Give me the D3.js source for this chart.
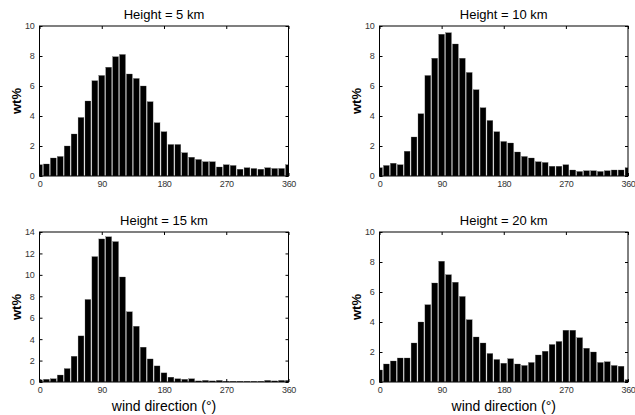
<!DOCTYPE html>
<html>
<head>
<meta charset="utf-8">
<script src="https://cdn.jsdelivr.net/npm/d3@7"></script>
<style>
body { margin: 0; background: #fff; }
svg text { font-family: "Liberation Sans", Arial, sans-serif; }
</style>
</head>
<body>
<svg id="chart" width="635" height="415"></svg>
<script>
// bin centres, 10 degree steps (0..360)
var binCenters = d3.range(0, 361, 10);
var xTicks = [0, 90, 180, 270, 360];

var titles = ["Height = 5 km", "Height = 10 km", "Height = 15 km", "Height = 20 km"];
var yMax = [10, 10, 14, 10];

var h5 = [0.75, 0.8, 1.2, 1.3, 2.0, 2.8, 3.9, 5.0, 6.35, 6.7, 7.25, 7.95, 8.1, 6.8, 6.5, 6.0, 4.95, 3.55,
	2.95, 2.1, 2.1, 1.55, 1.25, 1.1, 0.95, 0.95, 0.6, 0.75, 0.7, 0.45, 0.55, 0.5, 0.45, 0.55, 0.5, 0.5, 0.75];
var h10 = [0.55, 0.7, 0.85, 0.75, 1.65, 2.6, 4.15, 6.7, 7.85, 9.45, 9.55, 8.8, 7.85, 6.9, 5.75, 4.55, 3.7, 2.95,
	2.3, 2.2, 1.6, 1.3, 1.2, 0.95, 0.9, 0.65, 0.65, 0.75, 0.4, 0.3, 0.35, 0.35, 0.3, 0.35, 0.4, 0.4, 0.55];
var h15 = [0.2, 0.25, 0.3, 0.65, 1.25, 2.4, 4.3, 7.7, 11.7, 13.35, 13.55, 13.1, 9.8, 6.55, 5.2, 3.25, 2.15, 1.5,
	0.85, 0.45, 0.3, 0.25, 0.3, 0.1, 0.15, 0.1, 0.15, 0.05, 0.05, 0.05, 0.05, 0.05, 0.05, 0.15, 0.1, 0.15, 0.15];
var h20 = [0.8, 1.2, 1.4, 1.6, 1.6, 2.6, 4.0, 5.15, 6.6, 8.05, 7.15, 6.65, 5.7, 4.15, 3.0, 2.6, 1.9, 1.5,
	1.25, 1.55, 1.2, 1.1, 1.3, 1.8, 2.05, 2.5, 2.7, 3.45, 3.45, 2.95, 2.25, 2.0, 1.3, 1.35, 1.1, 1.05, 0.15];

var series = [h5, h10, h15, h20];

var svg = d3.select("#chart");

// panel boxes (left, top, width, height)
var panels = [
	{left: 39.5, top: 26, width: 249, height: 150},
	{left: 379.5, top: 26, width: 248.5, height: 150},
	{left: 39.5, top: 232, width: 249, height: 150},
	{left: 379.5, top: 232, width: 248.5, height: 150}
];

var tickLen = 3;

panels.forEach(function(p, i) {
	var g = svg.append("g")
		.attr("transform", "translate(" + p.left + "," + p.top + ")");

	var x = d3.scaleLinear().domain([0, 360]).range([0, p.width]);
	var y = d3.scaleLinear().domain([0, yMax[i]]).range([p.height, 0]);

	var clipId = "clip" + i;
	g.append("clipPath").attr("id", clipId)
		.append("rect").attr("width", p.width).attr("height", p.height);

	var data = binCenters.map(function(c, j) { return {c: c, v: series[i][j]}; });

	g.append("g").attr("clip-path", "url(#" + clipId + ")")
		.selectAll(".bar")
		.data(data)
		.enter().append("rect")
		.attr("class", "bar")
		.attr("x", function(d) { return x(d.c - 4.2); })
		.attr("y", function(d) { return y(d.v); })
		.attr("width", x(8.4) - x(0))
		.attr("height", function(d) { return p.height - y(d.v); })
		.attr("fill", "#000")
		.attr("stroke", "#555")
		.attr("stroke-width", 0.3);

	var yTicks = d3.range(0, yMax[i] + 1, 2);

	g.append("g")
		.attr("transform", "translate(0," + p.height + ")")
		.call(d3.axisBottom(x).tickValues(xTicks).tickSize(-tickLen).tickPadding(5).tickFormat(d3.format("d")));
	g.append("g")
		.call(d3.axisLeft(y).tickValues(yTicks).tickSize(-tickLen).tickPadding(5).tickFormat(d3.format("d")));
	g.append("g")
		.call(d3.axisTop(x).tickValues(xTicks).tickSize(-tickLen).tickFormat(""));
	g.append("g")
		.attr("transform", "translate(" + p.width + ",0)")
		.call(d3.axisRight(y).tickValues(yTicks).tickSize(-tickLen).tickFormat(""));

	g.selectAll(".domain").remove();
	g.selectAll(".tick line").attr("stroke", "#000");
	g.selectAll(".tick text").attr("fill", "#333")
		.style("font-size", "9px")
		.style("letter-spacing", "-0.3px");

	g.append("rect")
		.attr("width", p.width).attr("height", p.height)
		.attr("fill", "none").attr("stroke", "#000").attr("stroke-width", 1);

	g.append("text")
		.attr("x", p.width / 2)
		.attr("y", -7)
		.attr("text-anchor", "middle")
		.style("font-size", "13px")
		.text(titles[i]);

	g.append("text")
		.attr("transform", "translate(" + (-19) + "," + (p.height / 2) + ") rotate(-90)")
		.attr("text-anchor", "middle")
		.style("font-size", "13px")
		.style("font-weight", "bold")
		.text("wt%");

	if (i >= 2) {
		g.append("text")
			.attr("x", p.width / 2)
			.attr("y", p.height + 29)
			.attr("text-anchor", "middle")
			.style("font-size", "14px")
			.text("wind direction (°)");
	}
});
</script>
</body>
</html>
